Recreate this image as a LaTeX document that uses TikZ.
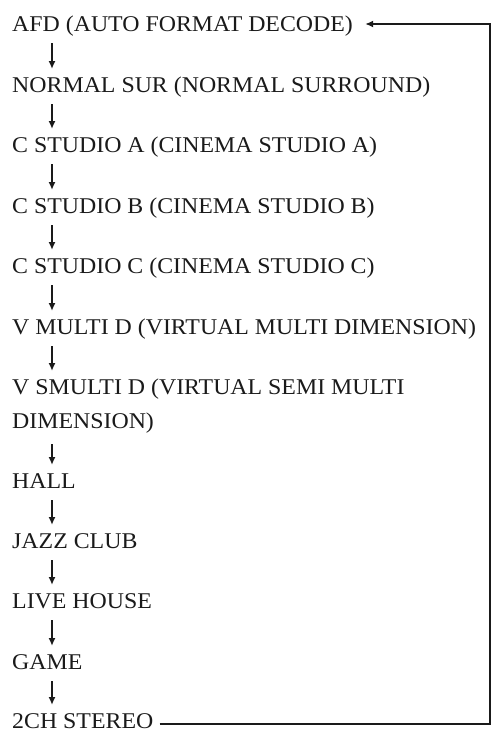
\documentclass[tikz,border=0pt]{standalone}
\usepackage{fontspec}
\setmainfont[FakeStretch=1.06]{Liberation Serif}
\usetikzlibrary{calc,arrows.meta}
\definecolor{txt}{HTML}{1A1A1A}
\begin{document}
\begin{tikzpicture}[x=1pt,y=-1pt,
  lbl/.style={anchor=base west, inner sep=0pt, text=txt, font=\fontsize{22.5}{34}\selectfont},
  down/.style={draw=txt, line width=1.6pt, -{Latex[length=8pt,width=7pt]}},
  back/.style={draw=txt, line width=1.7pt, -{Latex[length=8pt,width=7pt]}}]
\useasboundingbox (0,0) rectangle (493,734);
\node[lbl] (afd) at (12,31) {AFD (AUTO FORMAT DECODE)};
\node[lbl] (nsur) at (12,92) {NORMAL SUR (NORMAL SURROUND)};
\node[lbl] (csa) at (12,152) {C STUDIO A (CINEMA STUDIO A)};
\node[lbl] (csb) at (12,213) {C STUDIO B (CINEMA STUDIO B)};
\node[lbl] (csc) at (12,273) {C STUDIO C (CINEMA STUDIO C)};
\node[lbl] (vmd) at (12,334) {V MULTI D (VIRTUAL MULTI DIMENSION)};
\node[lbl, align=left] (vsmd) at (12,428) {V SMULTI D (VIRTUAL SEMI MULTI\\DIMENSION)};
\node[lbl] (hall) at (12,488) {HALL};
\node[lbl] (jazz) at (12,548) {JAZZ CLUB};
\node[lbl] (live) at (12,608) {LIVE HOUSE};
\node[lbl] (game) at (12,669) {GAME};
\node[lbl] (stereo) at (12,728) {2CH STEREO};
\foreach \a/\b in {afd/nsur,nsur/csa,csa/csb,csb/csc,csc/vmd,hall/jazz,jazz/live,live/game,game/stereo}
  \draw[down] ($(\a.base west)+(40,12)$) -- ($(\b.base west)+(40,-23)$);
\draw[down] ($(vmd.base west)+(40,12)$) -- ($(vsmd.base west)+(40,-57)$);
\draw[down] ($(vsmd.base west)+(40,16)$) -- ($(hall.base west)+(40,-23)$);
\coordinate (rx) at (490,0);
\draw[back] ($(stereo.base east)+(6,-4)$) -| (rx |- afd.base) -- ++(0,-7) -- ($(afd.base east)+(12,-7)$);
\end{tikzpicture}
\end{document}
